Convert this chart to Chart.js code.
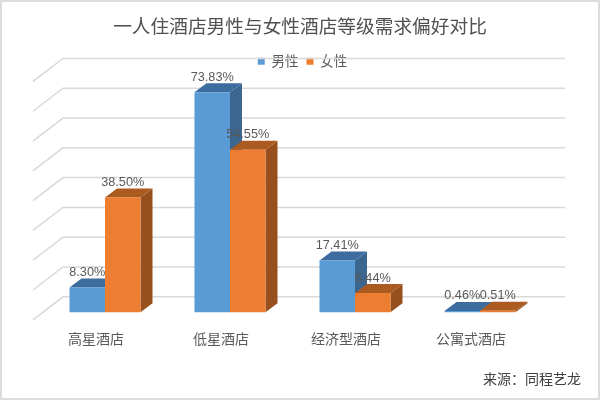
<!DOCTYPE html>
<html>
<head>
<meta charset="utf-8">
<script src="https://cdn.jsdelivr.net/npm/chart.js@4"></script>
<style>
  body { margin: 0; background: #fff; }
  #box { width: 600px; height: 400px; }
  canvas { outline: 2px solid #dcdcdc; outline-offset: -2px; }
</style>
</head>
<body>
<div id="box"><canvas id="myChart" width="600" height="400"></canvas></div>
<script>
// Chart data
const categories = ['高星酒店', '低星酒店', '经济型酒店', '公寓式酒店'];
const maleValues = [8.30, 73.83, 17.41, 0.46];
const femaleValues = [38.50, 54.55, 6.44, 0.51];
const titleText = '一人住酒店男性与女性酒店等级需求偏好对比';
const sourceText = '来源：同程艺龙';

const latin = '"Liberation Sans", "Noto Sans CJK SC", sans-serif';
const cjk = '"Noto Sans CJK SC", sans-serif';

// Fake 3D look: walls and gridlines behind the bars, side and top faces on the bars
const depth3d = {
    id: 'depth3d',
    afterLayout(chart) {
        // legend sits lower and a bit to the right, over the top gridline
        chart.legend.top += 4;
        chart.legend.left += 5;
    },
    beforeDatasetsDraw(chart) {
        const { ctx, scales } = chart;
        ctx.save();
        ctx.strokeStyle = '#d9d9d9';
        ctx.lineWidth = 1.5;
        scales.y.ticks.forEach(t => {
            const y = scales.y.getPixelForValue(t.value);
            ctx.beginPath();
            ctx.moveTo(33, y + 7.5);
            ctx.lineTo(63, y - 15.5);
            ctx.lineTo(565, y - 15.5);
            ctx.stroke();
        });
        ctx.restore();
    },
    // skip the default order (first dataset on top), the orange bars have to cover the blue sides
    beforeDatasetDraw() {
        return false;
    },
    afterDatasetsDraw(chart) {
        const { ctx } = chart;
        const dx = 12, dy = 9;
        chart.data.datasets.forEach((ds, i) => {
            const meta = chart.getDatasetMeta(i);
            ctx.save();
            meta.data.forEach(bar => {
                const p = bar.getProps(['x', 'y', 'base', 'width']);
                const l = p.x - p.width / 2, r = p.x + p.width / 2;
                ctx.fillStyle = ds.sideColor;
                ctx.beginPath();
                ctx.moveTo(r, p.y);
                ctx.lineTo(r + dx, p.y - dy);
                ctx.lineTo(r + dx, p.base - dy);
                ctx.lineTo(r, p.base);
                ctx.closePath();
                ctx.fill();
                ctx.fillStyle = ds.topColor;
                ctx.beginPath();
                ctx.moveTo(l, p.y);
                ctx.lineTo(l + dx, p.y - dy);
                ctx.lineTo(r + dx, p.y - dy);
                ctx.lineTo(r, p.y);
                ctx.closePath();
                ctx.fill();
            });
            ctx.restore();
            meta.data.forEach(bar => bar.draw(ctx));
        });
    },
    afterDraw(chart) {
        const { ctx } = chart;
        ctx.save();
        ctx.fillStyle = '#595959';
        ctx.font = '12.7px ' + latin;
        ctx.textAlign = 'center';
        ctx.textBaseline = 'middle';
        chart.data.datasets.forEach((ds, i) => {
            chart.getDatasetMeta(i).data.forEach((bar, j) => {
                ctx.fillText(ds.data[j].toFixed(2) + '%', bar.x, bar.y - 15);
            });
        });
        ctx.fillStyle = '#404040';
        ctx.font = '14px ' + cjk;
        ctx.textAlign = 'right';
        ctx.fillText(sourceText, 581, 379);
        ctx.restore();
    }
};

const ctx = document.getElementById('myChart').getContext('2d');
const myChart = new Chart(ctx, {
    type: 'bar',
    data: {
        labels: categories,
        datasets: [
            { label: '男性', data: maleValues, backgroundColor: '#5b9bd5', sideColor: '#3a6690', topColor: '#3d6c9e' },
            { label: '女性', data: femaleValues, backgroundColor: '#ed7d31', sideColor: '#97501d', topColor: '#ab5a20' },
        ],
    },
    options: {
        responsive: false,
        animation: false,
        devicePixelRatio: 1,
        datasets: { bar: { categoryPercentage: 0.568, barPercentage: 1 } },
        scales: {
            x: {
                grid: { display: false },
                border: { display: false },
                ticks: { color: '#595959', font: { family: cjk, size: 14 }, padding: 10, labelOffset: -9, maxRotation: 0 },
                afterFit(scale) { scale.height = 87.7; },
            },
            y: {
                min: 0,
                max: 80,
                ticks: { stepSize: 10, display: false },
                grid: { display: false },
                border: { display: false },
                afterFit(scale) { scale.width = 42.5; },
            },
            yRight: {
                position: 'right',
                min: 0,
                max: 80,
                ticks: { display: false },
                grid: { display: false },
                border: { display: false },
                afterFit(scale) { scale.width = 57.5; },
            },
        },
        plugins: {
            tooltip: { enabled: false },
            title: {
                display: true,
                text: titleText,
                color: '#505050',
                font: { family: cjk, size: 18.7, weight: 'normal' },
                padding: { top: 15, bottom: 5 },
            },
            legend: {
                display: true,
                position: 'top',
                labels: { boxWidth: 7, boxHeight: 7, color: '#595959', font: { family: cjk, size: 13.5 }, padding: 8 },
            },
        },
    },
    plugins: [depth3d],
});
</script>
</body>
</html>
